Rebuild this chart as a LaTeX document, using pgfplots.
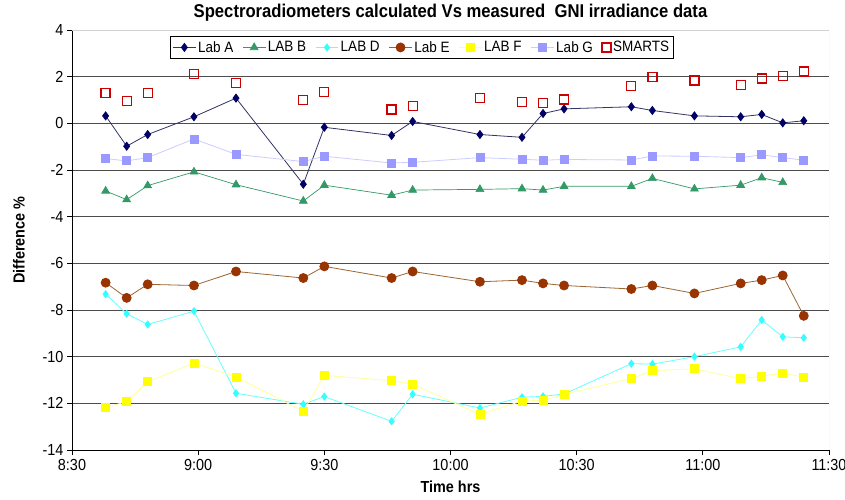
\documentclass[border=0pt]{standalone}
\usepackage{fontspec}
\setmainfont{Liberation Sans}[FakeStretch=0.9]
\usepackage{pgfplots}
\pgfplotsset{compat=1.18}
\definecolor{cA}{HTML}{000066}
\definecolor{cAl}{HTML}{333366}
\definecolor{cB}{HTML}{339966}
\definecolor{cD}{HTML}{33FFFF}
\definecolor{cDl}{HTML}{66FFFF}
\definecolor{cE}{HTML}{993300}
\definecolor{cEl}{HTML}{996633}
\definecolor{cF}{HTML}{FFFF00}
\definecolor{cFl}{HTML}{FFFF99}
\definecolor{cG}{HTML}{9999FF}
\definecolor{cGl}{HTML}{CCCCFF}
\definecolor{cS}{HTML}{CC0000}
\begin{document}
\begin{tikzpicture}
\useasboundingbox (-72pt,-50pt) rectangle (773pt,450pt);
\begin{axis}[
  at={(0pt,0pt)}, anchor=south west,
  scale only axis, width=757pt, height=420pt,
  xmin=0, xmax=180, ymin=-14, ymax=4,
  xtick={0,30,...,180},
  xticklabels={8:30,9:00,9:30,10:00,10:30,11:00,11:30},
  ytick={-14,-12,...,4},
  axis lines=left, axis line style={-, black, line width=0.9pt},
  tick align=outside, major tick length=5pt,
  tick style={black, line width=0.8pt},
  ymajorgrids, major grid style={draw=gray!60!black, line width=0.9pt},
  /pgf/number format/assume math mode=true,
  ticklabel style={font=\fontsize{16}{17}\selectfont},
  xticklabel style={yshift=-1pt},
  title={Spectroradiometers calculated Vs measured\ \ GNI irradiance data},
  title style={font=\bfseries\fontsize{18.5}{19}\selectfont, at={(0.5,1)}, anchor=base, yshift=6pt},
  xlabel={Time hrs},
  xlabel style={font=\bfseries\fontsize{16}{17}\selectfont, yshift=-3pt},
  ylabel={Difference \%},
  ylabel style={font=\bfseries\fontsize{16}{17}\selectfont, yshift=11pt},
  legend columns=7,
  legend style={at={(0.129,0.985)}, anchor=north west, draw=black, line width=0.9pt,
    font=\fontsize{15}{16}\selectfont, inner sep=2.5pt,
    /tikz/every even column/.append style={column sep=7pt}},
  legend image code/.code={\draw[mark repeat=2,mark phase=2] plot coordinates {(0cm,0cm) (0.4cm,0cm) (0.8cm,0cm)};},
]
\draw[gray!35, line width=0.9pt] (rel axis cs:0,1) -- (rel axis cs:1,1) -- (rel axis cs:1,0);
\addplot[color=cAl, line width=0.8pt, mark=diamond*, mark size=4pt, mark options={fill=cA, draw=cA}] coordinates {
(8,0.32) (13,-0.98) (18,-0.48) (29,0.28) (39,1.08) (55,-2.61) (60,-0.17) (76,-0.52) (81,0.08) (97,-0.48)
(107,-0.60) (112,0.42) (117,0.62) (133,0.71) (138,0.55) (148,0.32) (159,0.28) (164,0.38) (169,0.02) (174,0.11)};
\addlegendentry{Lab A}
\addplot[color=cB, line width=0.7pt, mark=triangle*, mark size=4.5pt, mark options={fill=cB, draw=cB}] coordinates {
(8,-2.90) (13,-3.27) (18,-2.67) (29,-2.08) (39,-2.63) (55,-3.33) (60,-2.65) (76,-3.08) (81,-2.86) (97,-2.83)
(107,-2.80) (112,-2.86) (117,-2.70) (133,-2.70) (138,-2.36) (148,-2.81) (159,-2.65) (164,-2.33) (169,-2.53)};
\addlegendentry{LAB B}
\addplot[color=cDl, line width=0.8pt, mark=diamond*, mark size=3.5pt, mark options={fill=cD, draw=cD}] coordinates {
(8,-7.32) (13,-8.16) (18,-8.62) (29,-8.05) (39,-11.57) (55,-12.04) (60,-11.71) (76,-12.77) (81,-11.61) (97,-12.20)
(107,-11.74) (112,-11.70) (117,-11.60) (133,-10.30) (138,-10.32) (148,-10.00) (159,-9.58) (164,-8.43) (169,-9.15) (174,-9.19)};
\addlegendentry{LAB D}
\addplot[color=cEl, line width=0.8pt, mark=*, mark size=4.5pt, mark options={fill=cE, draw=cE}] coordinates {
(8,-6.83) (13,-7.48) (18,-6.90) (29,-6.95) (39,-6.35) (55,-6.63) (60,-6.13) (76,-6.63) (81,-6.35) (97,-6.79)
(107,-6.72) (112,-6.86) (117,-6.95) (133,-7.10) (138,-6.95) (148,-7.29) (159,-6.86) (164,-6.72) (169,-6.52) (174,-8.25)};
\addlegendentry{Lab E}
\addplot[color=cFl, line width=0.8pt, mark=square*, mark size=4pt, mark options={fill=cF, draw=cF}] coordinates {
(8,-12.17) (13,-11.93) (18,-11.08) (29,-10.27) (39,-10.87) (55,-12.34) (60,-10.80) (76,-11.03) (81,-11.18) (97,-12.48)
(107,-11.90) (112,-11.87) (117,-11.61) (133,-10.94) (138,-10.60) (148,-10.52) (159,-10.94) (164,-10.84) (169,-10.70) (174,-10.88)};
\addlegendentry{LAB F}
\addplot[color=cGl, line width=0.8pt, mark=square*, mark size=4pt, mark options={fill=cG, draw=cG}] coordinates {
(8,-1.51) (13,-1.61) (18,-1.47) (29,-0.67) (39,-1.33) (55,-1.64) (60,-1.41) (76,-1.70) (81,-1.67) (97,-1.47)
(107,-1.54) (112,-1.58) (117,-1.55) (133,-1.57) (138,-1.40) (148,-1.41) (159,-1.47) (164,-1.35) (169,-1.47) (174,-1.58)};
\addlegendentry{Lab G}
\addplot[color=cS, only marks, mark=square, mark size=4.5pt, mark options={solid, draw=cS, fill=none, line width=1.3pt}] coordinates {
(8,1.31) (13,0.95) (18,1.31) (29,2.12) (39,1.74) (55,1.01) (60,1.35) (76,0.59) (81,0.73) (97,1.08)
(107,0.92) (112,0.88) (117,1.02) (133,1.61) (138,2.00) (148,1.84) (159,1.65) (164,1.92) (169,2.04) (174,2.22)};
\addlegendentry{SMARTS}
\end{axis}
\end{tikzpicture}
\end{document}
